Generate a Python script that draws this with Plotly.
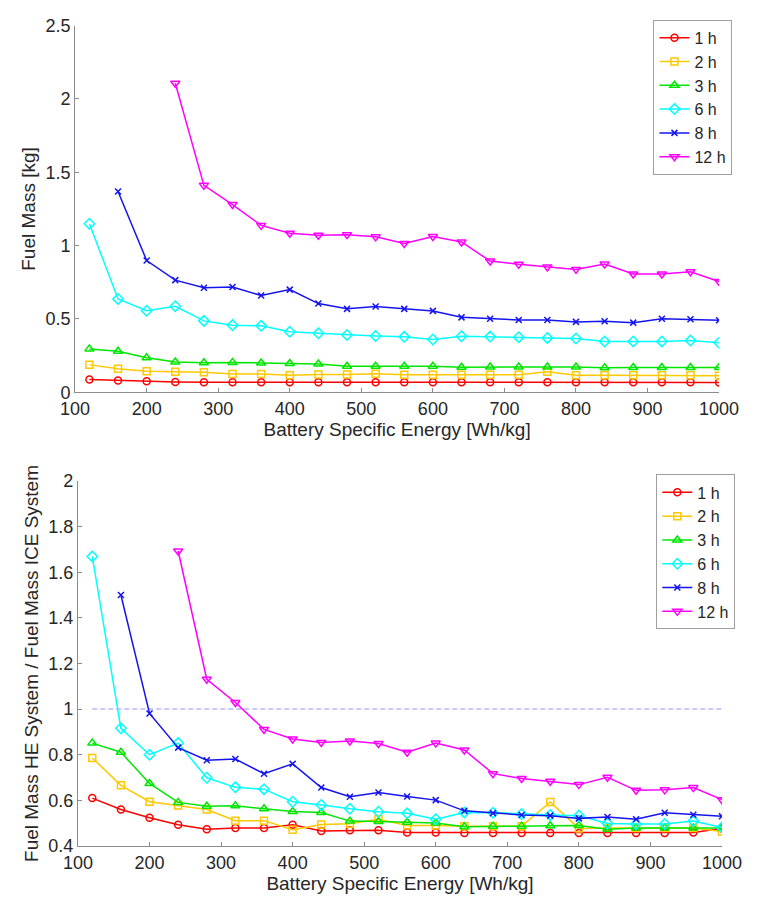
import plotly.graph_objects as go

# Battery specific energy grid [Wh/kg]
energy = [120, 160, 200, 240, 280, 320, 360, 400, 440, 480, 520, 560,
          600, 640, 680, 720, 760, 800, 840, 880, 920, 960, 1000]

x_ticks = [100, 200, 300, 400, 500, 600, 700, 800, 900, 1000]
fuel_ticks = [0, 0.5, 1, 1.5, 2, 2.5]
ratio_ticks = [0.4, 0.6, 0.8, 1, 1.2, 1.4, 1.6, 1.8, 2]

series_names = ["1 h", "2 h", "3 h", "6 h", "8 h", "12 h"]

# Fuel mass [kg] per flight endurance
fuel_1h = [0.087, 0.080, 0.076, 0.071, 0.069, 0.069, 0.069, 0.069, 0.068, 0.068, 0.068, 0.068,
           0.068, 0.068, 0.068, 0.068, 0.068, 0.068, 0.068, 0.068, 0.068, 0.068, 0.067]
fuel_2h = [0.187, 0.160, 0.144, 0.140, 0.136, 0.124, 0.124, 0.116, 0.122, 0.122, 0.127, 0.120,
           0.120, 0.120, 0.120, 0.120, 0.140, 0.116, 0.116, 0.116, 0.116, 0.116, 0.113]
fuel_3h = [0.296, 0.280, 0.236, 0.207, 0.202, 0.204, 0.200, 0.196, 0.193, 0.178, 0.178, 0.178,
           0.178, 0.171, 0.173, 0.173, 0.173, 0.173, 0.167, 0.169, 0.169, 0.169, 0.169]
fuel_6h = [1.149, 0.636, 0.556, 0.587, 0.487, 0.458, 0.453, 0.413, 0.402, 0.391, 0.384, 0.378,
           0.360, 0.382, 0.380, 0.376, 0.371, 0.367, 0.347, 0.347, 0.347, 0.353, 0.338]
fuel_8h = [None, 1.369, 0.898, 0.765, 0.713, 0.718, 0.660, 0.700, 0.605, 0.569, 0.585, 0.569,
           0.555, 0.511, 0.502, 0.493, 0.493, 0.480, 0.485, 0.475, 0.502, 0.498, 0.491]
fuel_12h = [None, None, None, 2.107, 1.411, 1.280, 1.138, 1.085, 1.071, 1.075, 1.060, 1.015,
            1.062, 1.025, 0.895, 0.873, 0.855, 0.838, 0.875, 0.807, 0.807, 0.822, 0.755]

# Fuel mass ratio hybrid-electric / ICE system
ratio_1h = [0.610, 0.560, 0.524, 0.493, 0.473, 0.479, 0.479, 0.493, 0.466, 0.469, 0.469, 0.459,
            0.459, 0.457, 0.457, 0.457, 0.457, 0.457, 0.457, 0.457, 0.457, 0.459, 0.477]
ratio_2h = [0.786, 0.666, 0.594, 0.577, 0.560, 0.511, 0.511, 0.471, 0.494, 0.497, 0.517, 0.490,
            0.490, 0.486, 0.486, 0.486, 0.593, 0.477, 0.479, 0.479, 0.479, 0.479, 0.464]
ratio_3h = [0.851, 0.811, 0.674, 0.591, 0.574, 0.576, 0.563, 0.551, 0.547, 0.509, 0.507, 0.504,
            0.501, 0.484, 0.487, 0.487, 0.489, 0.490, 0.473, 0.479, 0.479, 0.479, 0.479]
ratio_6h = [1.669, 0.916, 0.800, 0.851, 0.699, 0.657, 0.649, 0.594, 0.580, 0.563, 0.550, 0.543,
            0.517, 0.547, 0.546, 0.540, 0.536, 0.533, 0.499, 0.496, 0.496, 0.509, 0.481]
ratio_8h = [None, 1.500, 0.981, 0.831, 0.776, 0.781, 0.717, 0.760, 0.656, 0.616, 0.634, 0.617,
            0.601, 0.554, 0.544, 0.536, 0.533, 0.521, 0.527, 0.517, 0.546, 0.537, 0.530]
ratio_12h = [None, None, None, 1.693, 1.131, 1.029, 0.911, 0.869, 0.854, 0.860, 0.849, 0.811,
             0.851, 0.821, 0.717, 0.696, 0.684, 0.669, 0.701, 0.644, 0.646, 0.656, 0.603]

# Break-even reference (ratio = 1)
ref_x = [120, 1000]
ref_y = [1, 1]

colors = ["#ff0000", "#ffc800", "#00e600", "#00ffff", "#1414f0", "#ff00ff"]
symbols = ["circle-open", "square-open", "triangle-up-open", "diamond-open",
           "x-thin-open", "triangle-down-open"]
sizes = [7, 7, 8, 8, 6, 8]

fuel_series = [fuel_1h, fuel_2h, fuel_3h, fuel_6h, fuel_8h, fuel_12h]
ratio_series = [ratio_1h, ratio_2h, ratio_3h, ratio_6h, ratio_8h, ratio_12h]

FONT = "Liberation Sans, Arial, sans-serif"
TXT = "#262626"
AXC = "#8c8c8c"

fig = go.Figure()

fig.add_trace(go.Scatter(x=ref_x, y=ref_y, mode="lines", xaxis="x2", yaxis="y2",
                         line=dict(color="#c8c8ff", width=2, dash="5px,3px"),
                         showlegend=False, hoverinfo="skip"))

for name, ys, c, s, sz in zip(series_names, fuel_series, colors, symbols, sizes):
    fig.add_trace(go.Scatter(
        x=energy, y=ys, name=name, mode="lines+markers", xaxis="x", yaxis="y",
        line=dict(color=c, width=1.5),
        marker=dict(symbol=s, size=sz, color=c, line=dict(color=c, width=1.5)),
        legend="legend"))

for name, ys, c, s, sz in zip(series_names, ratio_series, colors, symbols, sizes):
    fig.add_trace(go.Scatter(
        x=energy, y=ys, name=name, mode="lines+markers", xaxis="x2", yaxis="y2",
        line=dict(color=c, width=1.5),
        marker=dict(symbol=s, size=sz, color=c, line=dict(color=c, width=1.5)),
        legend="legend2"))

W, H = 762, 899
TICK_SIZE = 18
TITLE_SIZE = 19


def ax_common():
    return dict(showline=True, linecolor=AXC, linewidth=1, ticks="inside",
                ticklen=4, tickcolor=AXC, showgrid=False, zeroline=False,
                mirror=False, tickfont=dict(family=FONT, size=TICK_SIZE, color=TXT))


xa = ax_common()
xa.update(domain=[63 / W, 738 / W], range=[100, 1000], tickvals=x_ticks,
          anchor="y",
          title=dict(text="Battery Specific Energy [Wh/kg]", standoff=0,
                     font=dict(family=FONT, size=TITLE_SIZE, color=TXT)))
ya = ax_common()
ya.update(domain=[1 - 391 / H, 1 - 16 / H], range=[0, 2.5], tickvals=fuel_ticks,
          anchor="x",
          title=dict(text="Fuel Mass [kg]", standoff=4,
                     font=dict(family=FONT, size=TITLE_SIZE, color=TXT)))
xa2 = ax_common()
xa2.update(domain=[66 / W, 741 / W], range=[100, 1000], tickvals=x_ticks,
           anchor="y2",
           title=dict(text="Battery Specific Energy [Wh/kg]", standoff=0,
                      font=dict(family=FONT, size=TITLE_SIZE, color=TXT)))
ya2 = ax_common()
ya2.update(domain=[1 - 855 / H, 1 - 481.7 / H], range=[0.4, 2], tickvals=ratio_ticks,
           anchor="x2",
           title=dict(text="Fuel Mass HE System / Fuel Mass ICE System", standoff=4,
                      font=dict(family=FONT, size=TITLE_SIZE, color=TXT)))

leg_common = dict(bgcolor="white", bordercolor="#a0a0a0", borderwidth=1,
                  font=dict(family=FONT, size=16, color=TXT),
                  xanchor="right", yanchor="top", tracegroupgap=0,
                  itemwidth=30)

fig.update_layout(
    width=W, height=H, margin=dict(l=0, r=0, t=0, b=0),
    paper_bgcolor="white", plot_bgcolor="white",
    xaxis=xa, yaxis=ya, xaxis2=xa2, yaxis2=ya2,
    legend=dict(x=752 / W, y=1 - 10 / H, **leg_common),
    legend2=dict(x=755 / W, y=1 - 475 / H, **leg_common),
)

fig.write_html("out.html")
